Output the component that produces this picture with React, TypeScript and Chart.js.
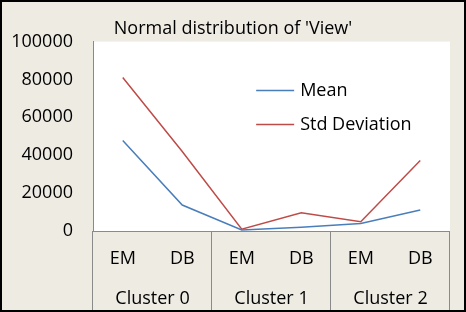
import { useEffect, useRef } from 'react';
import { Chart, registerables } from 'chart.js';

Chart.register(...registerables);

const categories = ['EM', 'DB', 'EM', 'DB', 'EM', 'DB'];
const clusters = ['Cluster 0', 'Cluster 1', 'Cluster 2'];
const meanValues = [47800, 13700, 500, 2000, 4000, 11100];
const stdValues = [81000, 42000, 1000, 9600, 4900, 37200];
const yTicks = [0, 20000, 40000, 60000, 80000, 100000];
const seriesNames = ['Mean', 'Std Deviation'];
const titleText = "Normal distribution of 'View'";

const FONT = "'Open Sans', sans-serif";
const BLUE = '#4a7ebb';
const RED = '#be4b48';
const BOX = '#8a8a8a';

const framePlugin = {
  id: 'frame',
  beforeDraw(chart: any) {
    const { ctx, width, height, chartArea } = chart;
    ctx.save();
    ctx.fillStyle = '#eeebe3';
    ctx.fillRect(0, 0, width, height);
    ctx.fillStyle = '#ffffff';
    ctx.fillRect(chartArea.left, chartArea.top, chartArea.right - chartArea.left, chartArea.bottom - chartArea.top);
    ctx.restore();
  },
  afterDraw(chart: any) {
    const { ctx, chartArea, width, height } = chart;
    const x = chart.scales.x;
    const per = categories.length / clusters.length;
    ctx.save();
    ctx.strokeStyle = BOX;
    ctx.lineWidth = 1;
    ctx.beginPath();
    const yb = Math.round(chartArea.bottom) + 0.5;
    ctx.moveTo(chartArea.left, yb);
    ctx.lineTo(chartArea.right, yb);
    for (let g = 0; g <= clusters.length; g++) {
      let px: number;
      if (g === 0) px = chartArea.left;
      else if (g === clusters.length) px = chartArea.right;
      else px = (x.getPixelForValue(g * per - 1) + x.getPixelForValue(g * per)) / 2;
      px = Math.round(px) - 0.5;
      ctx.moveTo(px, chartArea.bottom);
      ctx.lineTo(px, height);
    }
    ctx.stroke();
    ctx.strokeStyle = '#000';
    ctx.lineWidth = 2;
    ctx.strokeRect(1, 1, width - 2, height - 2);
    ctx.restore();
  },
};

const legendPlugin = {
  id: 'insideLegend',
  afterDatasetsDraw(chart: any) {
    const { ctx, chartArea } = chart;
    const w = chartArea.right - chartArea.left;
    const h = chartArea.bottom - chartArea.top;
    const x0 = chartArea.left + w * 0.457;
    const lineLen = 38;
    const rows = [0.258, 0.434];
    ctx.save();
    ctx.font = `18px ${FONT}`;
    ctx.textBaseline = 'middle';
    ctx.textAlign = 'left';
    chart.data.datasets.forEach((ds: any, i: number) => {
      const y = Math.round(chartArea.top + h * rows[i]) + 0.5;
      ctx.strokeStyle = ds.borderColor;
      ctx.lineWidth = 1.5;
      ctx.beginPath();
      ctx.moveTo(x0, y);
      ctx.lineTo(x0 + lineLen, y);
      ctx.stroke();
      ctx.fillStyle = '#000';
      ctx.fillText(ds.label, x0 + lineLen + 6, y);
    });
    ctx.restore();
  },
};

export default function App() {
  const ref = useRef<HTMLCanvasElement>(null);
  useEffect(() => {
    const font = { family: FONT, size: 18 };
    const chart = new Chart(ref.current!, {
      type: 'line',
      data: {
        labels: categories,
        datasets: [
          { label: seriesNames[0], data: meanValues, borderColor: BLUE, backgroundColor: BLUE, borderWidth: 1.5, pointRadius: 0, tension: 0, xAxisID: 'x', yAxisID: 'y' },
          { label: seriesNames[1], data: stdValues, borderColor: RED, backgroundColor: RED, borderWidth: 1.5, pointRadius: 0, tension: 0, xAxisID: 'x', yAxisID: 'y' },
        ],
      },
      options: {
        animation: false,
        responsive: false,
        layout: { padding: { left: 2, right: 2, top: 0, bottom: 2 } },
        plugins: {
          legend: { display: false },
          tooltip: { enabled: false },
          title: {
            display: true,
            text: titleText,
            color: '#000',
            font: { family: FONT, size: 18, weight: 'normal' },
            padding: { top: 18, bottom: 2 },
          },
        },
        scales: {
          x: {
            type: 'category',
            position: 'bottom',
            offset: true,
            grid: { display: false, drawTicks: false },
            border: { display: false },
            ticks: { color: '#000', font, padding: 17, maxRotation: 0, autoSkip: false },
            afterFit(s: any) { s.height = 40; },
          },
          x2: {
            type: 'category',
            labels: clusters,
            position: 'bottom',
            offset: true,
            grid: { display: false, drawTicks: false },
            border: { display: false },
            ticks: { color: '#000', font, padding: 17, maxRotation: 0, autoSkip: false },
            afterFit(s: any) { s.height = 39; },
          },
          y: {
            type: 'linear',
            min: yTicks[0],
            max: yTicks[yTicks.length - 1],
            afterBuildTicks(s: any) { s.ticks = yTicks.map((v) => ({ value: v })); },
            grid: { display: false, drawTicks: false },
            border: { display: true, color: BOX, width: 1 },
            ticks: { color: '#000', font, padding: 20, callback: (v: any) => String(v) },
            afterFit(s: any) { s.width = 91; },
          },
          yR: {
            type: 'linear',
            position: 'right',
            display: true,
            grid: { display: false, drawTicks: false },
            border: { display: false },
            ticks: { display: false },
            afterFit(s: any) { s.width = 14; },
          },
        },
      } as any,
      plugins: [framePlugin, legendPlugin],
    });
    return () => chart.destroy();
  }, []);
  return (
    <div style={{ position: 'fixed', left: 0, top: 0, width: 466, height: 312 }}>
      <canvas ref={ref} width={466} height={312} style={{ display: 'block', width: 466, height: 312 }} />
    </div>
  );
}
